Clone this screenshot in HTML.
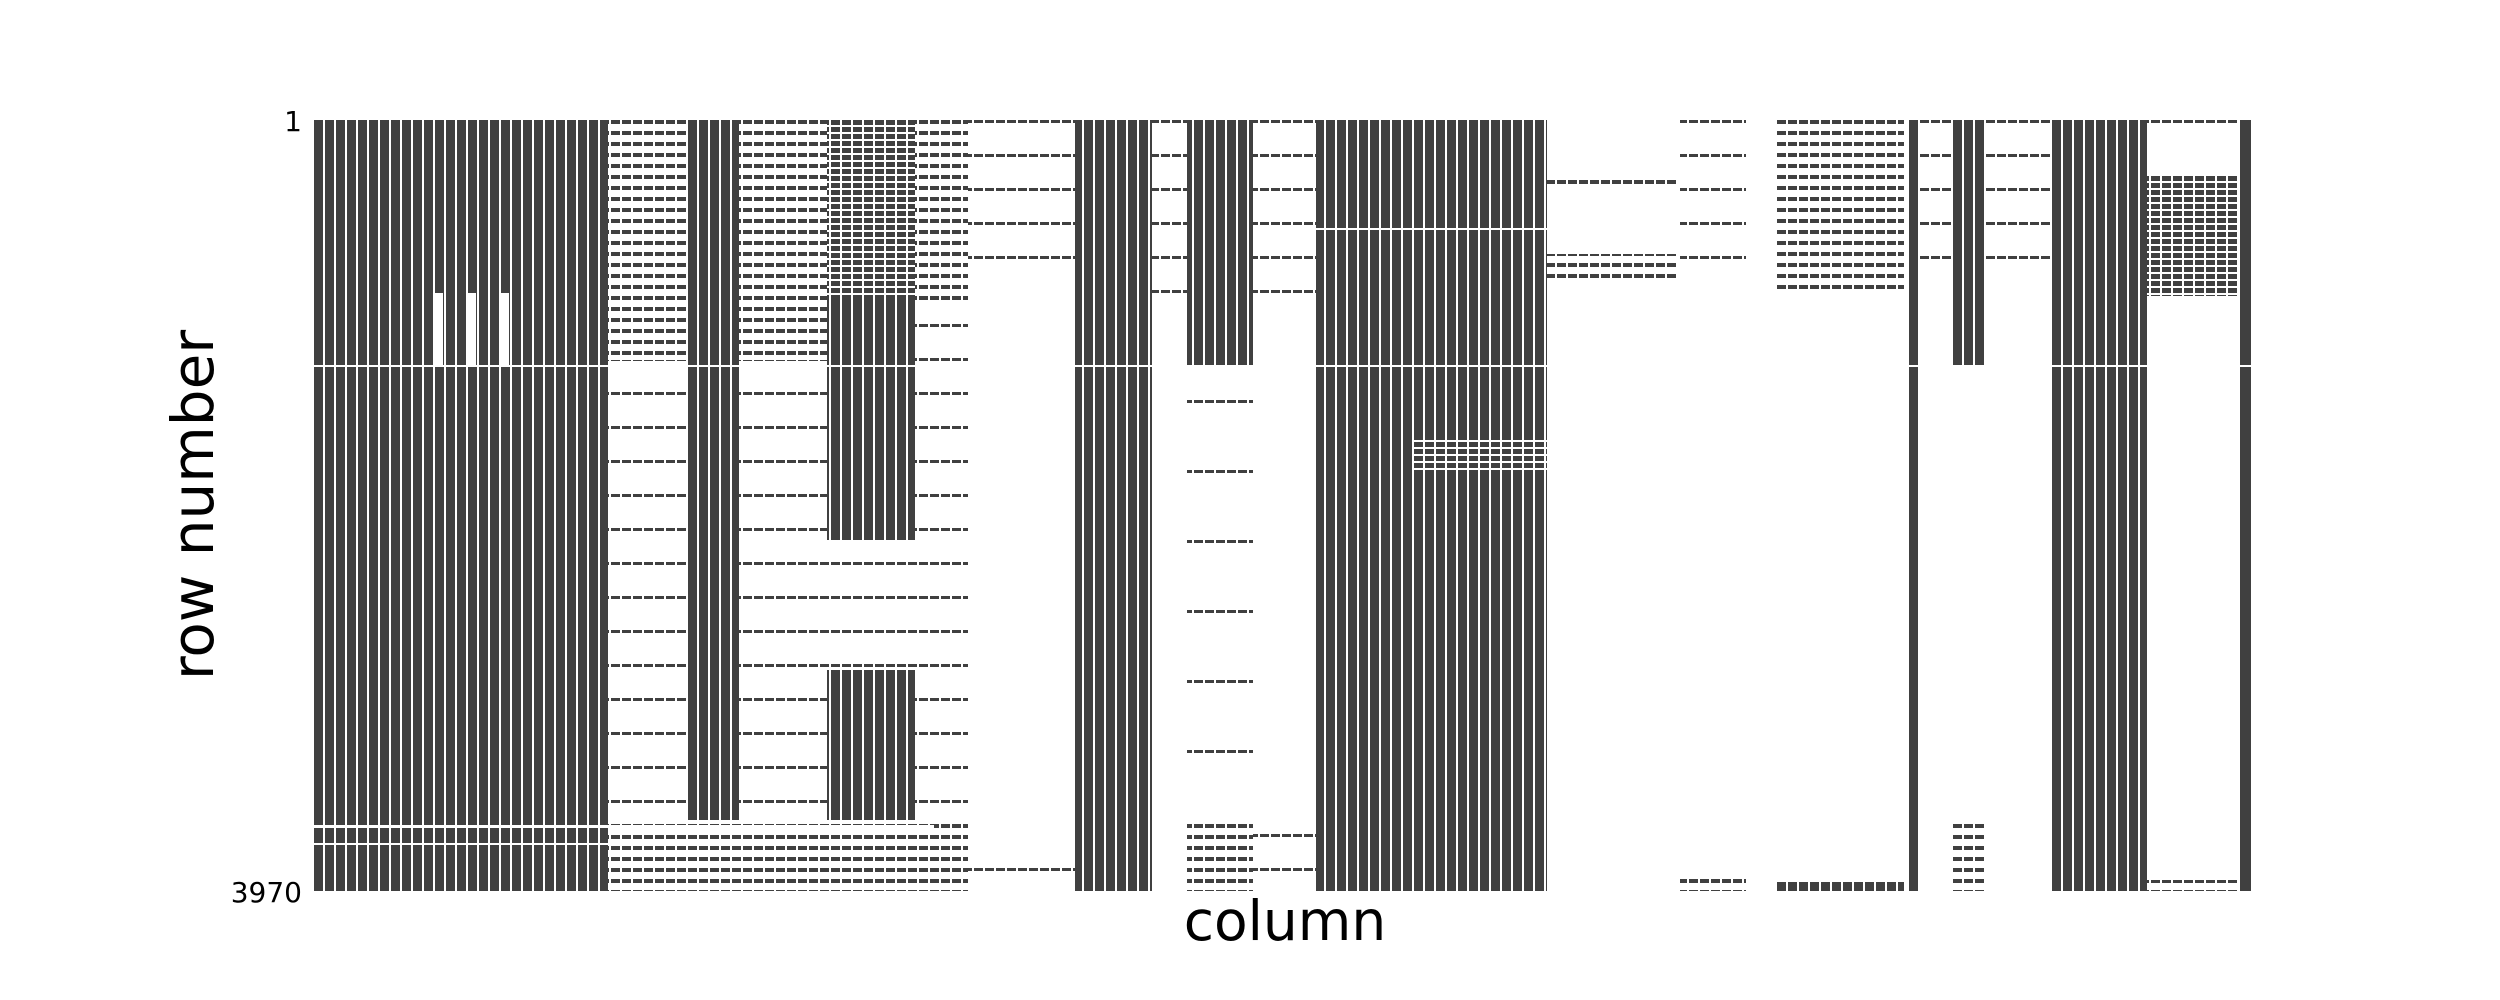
<!DOCTYPE html>
<html><head><meta charset="utf-8"><style>html,body{margin:0;padding:0;background:#fff;width:2500px;height:1000px;overflow:hidden}</style></head>
<body>
<svg width="2500" height="1000" xmlns="http://www.w3.org/2000/svg">
<defs>
<pattern id="dn" x="0" y="120" width="11" height="7" patternUnits="userSpaceOnUse"><rect width="11" height="5" fill="#404040"/></pattern>
<pattern id="md" x="0" y="120" width="11" height="11" patternUnits="userSpaceOnUse"><rect width="11" height="4" fill="#404040"/></pattern>
<pattern id="sp" x="0" y="120" width="11" height="34" patternUnits="userSpaceOnUse"><rect width="11" height="3" fill="#404040"/></pattern>
<pattern id="vs" x="0" y="120" width="11" height="70" patternUnits="userSpaceOnUse"><rect width="11" height="3" fill="#404040"/></pattern>
<pattern id="gap" x="314" y="0" width="11" height="10" patternUnits="userSpaceOnUse"><rect x="9" width="2" height="10" fill="#fff"/></pattern>
</defs>
<g fill="#404040">
<rect x="314" y="120" width="294" height="771"/>
<rect x="608" y="120" width="80" height="240" fill="url(#md)"/>
<rect x="608" y="360" width="80" height="460" fill="url(#sp)"/>
<rect x="608" y="820" width="80" height="71" fill="url(#md)"/>
<rect x="688" y="120" width="51" height="700"/>
<rect x="688" y="820" width="51" height="71" fill="url(#md)"/>
<rect x="739" y="120" width="88" height="240" fill="url(#md)"/>
<rect x="739" y="360" width="88" height="460" fill="url(#sp)"/>
<rect x="739" y="820" width="88" height="71" fill="url(#md)"/>
<rect x="827" y="120" width="88" height="180" fill="url(#dn)"/>
<rect x="827" y="300" width="88" height="60"/>
<rect x="827" y="360" width="88" height="180"/>
<rect x="827" y="540" width="88" height="130" fill="url(#sp)"/>
<rect x="827" y="670" width="88" height="150"/>
<rect x="827" y="820" width="88" height="71" fill="url(#md)"/>
<rect x="915" y="120" width="53" height="180" fill="url(#md)"/>
<rect x="915" y="300" width="53" height="520" fill="url(#sp)"/>
<rect x="915" y="820" width="53" height="71" fill="url(#md)"/>
<rect x="968" y="120" width="107" height="170" fill="url(#sp)"/>
<rect x="968" y="840" width="107" height="51" fill="url(#sp)"/>
<rect x="1075" y="120" width="77" height="771"/>
<rect x="1152" y="120" width="35" height="180" fill="url(#sp)"/>
<rect x="1187" y="120" width="66" height="245"/>
<rect x="1187" y="365" width="66" height="455" fill="url(#vs)"/>
<rect x="1187" y="820" width="66" height="71" fill="url(#md)"/>
<rect x="1253" y="120" width="63" height="190" fill="url(#sp)"/>
<rect x="1253" y="820" width="63" height="71" fill="url(#sp)"/>
<rect x="1316" y="120" width="96" height="771"/>
<rect x="1412" y="120" width="135" height="771"/>
<rect x="1412" y="440" width="135" height="30" fill="#fff"/>
<rect x="1412" y="440" width="135" height="30" fill="url(#dn)"/>
<rect x="1547" y="180" width="130" height="4"/>
<rect x="1547" y="254" width="130" height="26" fill="url(#md)"/>
<rect x="1680" y="120" width="66" height="165" fill="url(#sp)"/>
<rect x="1680" y="876" width="66" height="15" fill="url(#md)"/>
<rect x="1776" y="120" width="128" height="176" fill="url(#md)"/>
<rect x="1776" y="882" width="128" height="9"/>
<rect x="1907" y="120" width="11" height="771"/>
<rect x="1920" y="120" width="32" height="170" fill="url(#sp)"/>
<rect x="1952" y="120" width="32" height="245"/>
<rect x="1952" y="820" width="32" height="71" fill="url(#md)"/>
<rect x="1984" y="120" width="67" height="170" fill="url(#sp)"/>
<rect x="2051" y="120" width="96" height="771"/>
<rect x="2147" y="120" width="91" height="30" fill="url(#sp)"/>
<rect x="2147" y="176" width="91" height="120" fill="url(#dn)"/>
<rect x="2147" y="880" width="91" height="11" fill="url(#md)"/>
<rect x="2240" y="120" width="11" height="771"/>
</g>
<g fill="#fff">
<rect x="314" y="365" width="1946" height="2"/>
<rect x="314" y="825" width="620" height="3"/>
<rect x="314" y="843" width="620" height="2"/>
<rect x="1316" y="228" width="231" height="2"/>
<rect x="434" y="293" width="9" height="72"/>
<rect x="467" y="293" width="9" height="72"/>
<rect x="500" y="293" width="9" height="72"/>
</g>
<rect x="314" y="120" width="1924" height="771" fill="url(#gap)"/>
<g font-family="DejaVu Sans, Liberation Sans, sans-serif" fill="#000">
<text x="302" y="131" font-size="28" text-anchor="end">1</text>
<text x="302" y="902" font-size="28" text-anchor="end">3970</text>
<text x="1285" y="940" font-size="55" text-anchor="middle">column</text>
<text transform="translate(213,505) rotate(-90)" font-size="58" text-anchor="middle">row number</text>
</g>
</svg>
</body></html>
